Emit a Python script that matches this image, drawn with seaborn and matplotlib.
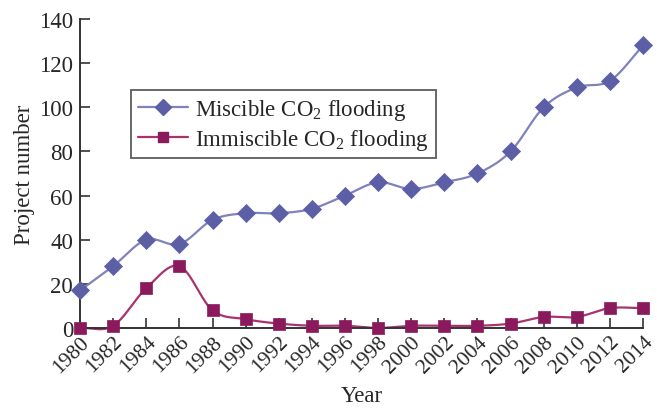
import numpy as np
import pandas as pd
import matplotlib
matplotlib.use("Agg")
import matplotlib.pyplot as plt
from matplotlib.lines import Line2D
import seaborn as sns

years = [1980, 1982, 1984, 1986, 1988, 1990, 1992, 1994, 1996, 1998,
         2000, 2002, 2004, 2006, 2008, 2010, 2012, 2014]
miscible = [17, 28, 40, 38, 49, 52, 52, 54, 60, 66,
            63, 66, 70, 80, 100, 109, 112, 128]
immiscible = [0, 1, 18, 28, 8, 4, 2, 1, 1, 0,
              1, 1, 1, 2, 5, 5, 9, 9]
y_ticks = [0, 20, 40, 60, 80, 100, 120, 140]
label_mis = "Miscible CO$_2$ flooding"
label_imm = "Immiscible CO$_2$ flooding"

df = pd.DataFrame({"Year": years, "Miscible": miscible, "Immiscible": immiscible})

sns.set_theme(style="ticks")
plt.rcParams["font.family"] = ["Liberation Serif", "DejaVu Serif"]
plt.rcParams["mathtext.fontset"] = "custom"
plt.rcParams["mathtext.rm"] = "Liberation Serif"
plt.rcParams["mathtext.it"] = "Liberation Serif:italic"


def smooth(x, y, n=20):
    """Catmull-Rom curve through the points, like a spreadsheet 'smoothed line'."""
    x = np.asarray(x, float)
    y = np.asarray(y, float)
    px = np.concatenate([[2 * x[0] - x[1]], x, [2 * x[-1] - x[-2]]])
    py = np.concatenate([[2 * y[0] - y[1]], y, [2 * y[-1] - y[-2]]])
    xs, ys = [], []
    t = np.linspace(0, 1, n, endpoint=False)
    for i in range(1, len(px) - 2):
        for arr, out in ((px, xs), (py, ys)):
            p0, p1, p2, p3 = arr[i - 1], arr[i], arr[i + 1], arr[i + 2]
            out.extend(0.5 * ((2 * p1) + (-p0 + p2) * t
                              + (2 * p0 - 5 * p1 + 4 * p2 - p3) * t ** 2
                              + (-p0 + 3 * p1 - 3 * p2 + p3) * t ** 3))
    xs.append(x[-1])
    ys.append(y[-1])
    return np.array(xs), np.array(ys)


c_mis_line, c_mis_mark = "#7f82bb", "#5c5fa6"
c_imm_line, c_imm_mark = "#a8336f", "#8b1a5c"
fs = 16.5

fig = plt.figure(figsize=(6.57, 4.10), dpi=100)
ax = fig.add_axes([0.1218, 0.1976, 0.8570, 0.7536])

for col, lc in (("Miscible", c_mis_line), ("Immiscible", c_imm_line)):
    sx, sy = smooth(df["Year"], df[col])
    sns.lineplot(x=sx, y=sy, ax=ax, color=lc, lw=1.6, sort=False, clip_on=False)

sns.scatterplot(data=df, x="Year", y="Miscible", ax=ax, marker="D", s=85,
                color=c_mis_mark, edgecolor=c_mis_mark, linewidth=0.5,
                clip_on=False, zorder=5)
sns.scatterplot(data=df, x="Year", y="Immiscible", ax=ax, marker="s", s=70,
                color=c_imm_mark, edgecolor=c_imm_mark, linewidth=0.5,
                clip_on=False, zorder=5)

ax.set_xlim(1980, 2014)
ax.set_ylim(0, 140)
ax.set_xticks(years)
ax.set_xticklabels([str(y) for y in years], rotation=45, ha="right",
                   rotation_mode="anchor", fontsize=fs - 1)
ax.set_yticks(y_ticks)
ax.set_yticklabels([str(v) for v in y_ticks], fontsize=fs)
ax.tick_params(axis="both", direction="in", length=7, width=1.2, color="#333333",
               pad=5)
ax.tick_params(axis="x", pad=3)
for side in ("top", "right"):
    ax.spines[side].set_visible(False)
for side in ("left", "bottom"):
    ax.spines[side].set_color("#333333")
    ax.spines[side].set_linewidth(1.4)

ax.set_xlabel("Year", fontsize=fs, labelpad=6)
ax.set_ylabel("Project number", fontsize=fs, labelpad=3)

handles = [
    Line2D([], [], color=c_mis_line, lw=1.6, marker="D", markersize=8,
           markerfacecolor=c_mis_mark, markeredgecolor=c_mis_mark),
    Line2D([], [], color=c_imm_line, lw=1.6, marker="s", markersize=7,
           markerfacecolor=c_imm_mark, markeredgecolor=c_imm_mark),
]
leg = ax.legend(handles, [label_mis, label_imm], loc="upper left",
                bbox_to_anchor=(0.09, 0.77), fontsize=fs, frameon=True,
                fancybox=False, handlelength=2.2, handletextpad=0.3,
                borderpad=0.3, labelspacing=0.2, borderaxespad=0)
leg.get_frame().set_edgecolor("#333333")
leg.get_frame().set_linewidth(1.3)

ax.set_facecolor("white")
fig.savefig("out.png", dpi=100, facecolor="white")
